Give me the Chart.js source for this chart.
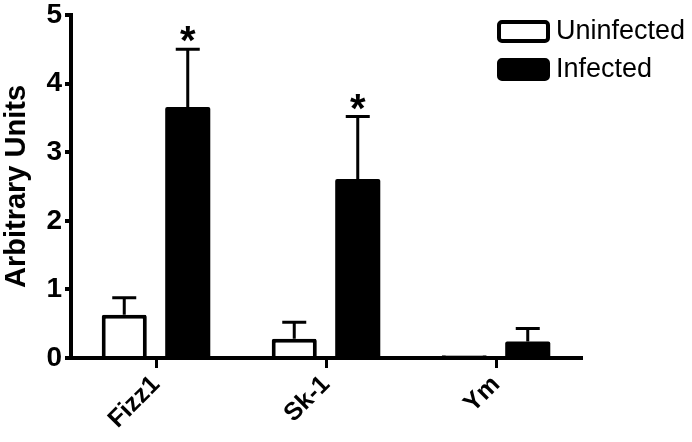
<!DOCTYPE html>
<html>
<head>
<meta charset="utf-8">
<script src="https://cdn.jsdelivr.net/npm/chart.js@4/dist/chart.umd.min.js"></script>
<style>
  html, body { margin: 0; padding: 0; background: #fff; }
  #wrap { width: 692px; height: 442px; }
</style>
</head>
<body>
<div id="wrap"><canvas id="bars"></canvas></div>
<script>
const categories = ['Fizz1', 'Sk-1', 'Ym'];
const uninfected = [0.63, 0.28, 0.04];
const uninfectedErr = [0.25, 0.24, 0];
const infected = [3.66, 2.61, 0.24];
const infectedErr = [0.84, 0.91, 0.19];
const starred = [true, true, false]; // asterisk over infected bar
const yTicks = [0, 1, 2, 3, 4, 5];

const FONT = "'Liberation Sans', Arial, Helvetica, sans-serif";

// upper error bars + asterisks
const errorBars = {
    id: 'errorBars',
    afterDatasetsDraw(chart) {
        const ctx = chart.ctx;
        const y = chart.scales.y;
        const errs = [uninfectedErr, infectedErr];
        ctx.save();
        ctx.strokeStyle = '#000';
        ctx.lineWidth = 3;
        chart.data.datasets.forEach((ds, di) => {
            const meta = chart.getDatasetMeta(di);
            meta.data.forEach((bar, i) => {
                const e = errs[di][i];
                if (!e) return;
                const top = y.getPixelForValue(ds.data[i]);
                const cap = y.getPixelForValue(ds.data[i] + e);
                ctx.beginPath();
                ctx.moveTo(bar.x, top);
                ctx.lineTo(bar.x, cap);
                ctx.moveTo(bar.x - 12, cap);
                ctx.lineTo(bar.x + 12, cap);
                ctx.stroke();
                if (di === 1 && starred[i]) {
                    ctx.fillStyle = '#000';
                    ctx.font = 'bold 40px ' + FONT;
                    ctx.textAlign = 'center';
                    ctx.textBaseline = 'alphabetic';
                    ctx.fillText('*', bar.x, cap + 5);
                }
            });
        });
        ctx.restore();
    }
};

// legend box in the top right corner
const boxLegend = {
    id: 'boxLegend',
    afterDraw(chart) {
        const ctx = chart.ctx;
        ctx.save();
        chart.data.datasets.forEach((ds, i) => {
            const top = 20 + i * 38;
            ctx.fillStyle = ds.backgroundColor;
            ctx.strokeStyle = '#000';
            ctx.lineWidth = 4;
            ctx.beginPath();
            ctx.roundRect(499, top + 2, 49, 19, 3);
            ctx.fill();
            ctx.stroke();
            ctx.fillStyle = '#000';
            ctx.font = '27px ' + FONT;
            ctx.textAlign = 'left';
            ctx.textBaseline = 'middle';
            ctx.fillText(ds.label, 556, top + 12);
        });
        ctx.restore();
    }
};

new Chart(document.getElementById('bars'), {
    type: 'bar',
    data: {
        labels: categories,
        datasets: [
            {
                label: 'Uninfected',
                data: uninfected,
                backgroundColor: '#fff',
                borderColor: '#000',
                borderWidth: 4,
                borderRadius: 2,
                borderSkipped: 'bottom',
                categoryPercentage: 0.747,
                barPercentage: 0.71
            },
            {
                label: 'Infected',
                data: infected,
                backgroundColor: '#000',
                borderColor: '#000',
                borderWidth: 0,
                borderRadius: 2,
                borderSkipped: 'bottom',
                categoryPercentage: 0.747,
                barPercentage: 0.71
            }
        ]
    },
    options: {
        responsive: true,
        maintainAspectRatio: false,
        animation: false,
        layout: { padding: { top: 15, right: 111, left: 0, bottom: 0 } },
        plugins: {
            legend: { display: false },
            tooltip: { enabled: false }
        },
        scales: {
            x: {
                grid: {
                    offset: false,
                    drawOnChartArea: false,
                    tickLength: 10,
                    lineWidth: 3,
                    color: '#000'
                },
                border: { color: '#000', width: 4 },
                ticks: {
                    color: '#000',
                    font: { family: FONT, size: 25, weight: 'bold' },
                    minRotation: 45,
                    maxRotation: 45,
                    padding: 2
                },
                afterFit(scale) { scale.height = 84; }
            },
            y: {
                min: 0,
                max: 5,
                afterBuildTicks(scale) { scale.ticks = yTicks.map(v => ({ value: v })); },
                grid: {
                    drawOnChartArea: false,
                    tickLength: 6,
                    lineWidth: 4,
                    color: '#000'
                },
                border: { color: '#000', width: 4 },
                ticks: {
                    color: '#000',
                    font: { family: FONT, size: 28, weight: 'bold' },
                    padding: 3
                },
                title: {
                    display: true,
                    text: 'Arbitrary Units',
                    color: '#000',
                    font: { family: FONT, size: 29, weight: 'bold' },
                    padding: 0
                },
                afterFit(scale) {
                    scale.width = 71;
                    scale.paddingTop = 0;
                    scale.paddingBottom = 0;
                }
            }
        }
    },
    plugins: [errorBars, boxLegend]
});
</script>
</body>
</html>
